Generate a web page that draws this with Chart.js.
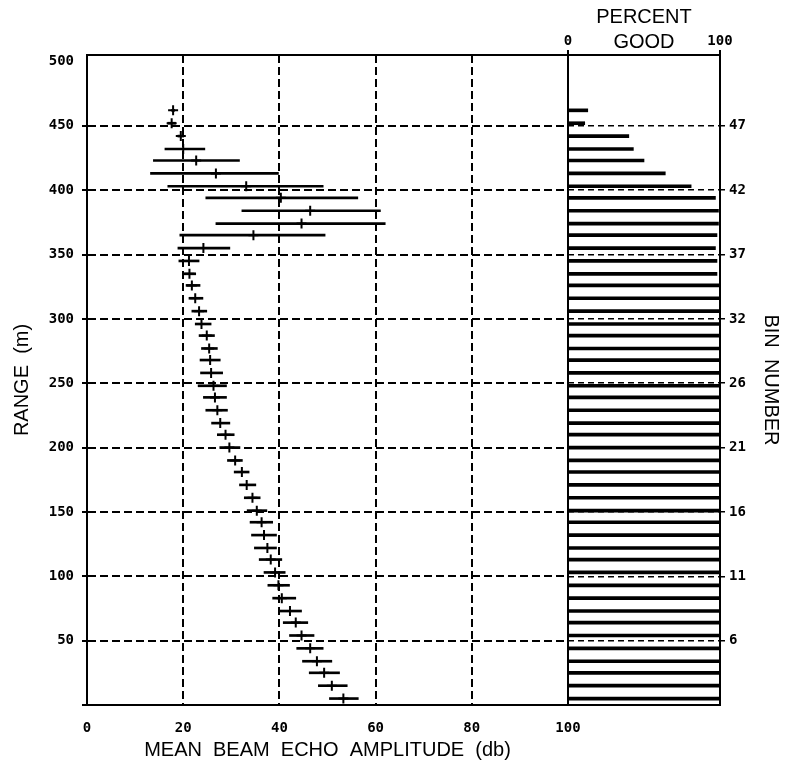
<!DOCTYPE html>
<html>
<head>
<meta charset="utf-8">
<script src="https://cdn.jsdelivr.net/npm/chart.js@4.4.1/dist/chart.umd.min.js"></script>
<style>
  html, body { margin: 0; background: #fff; }
  #wrap { position: relative; width: 785px; height: 767px; }
  #wrap canvas { position: absolute; left: 0; top: 0; }
</style>
</head>
<body>
<div id="wrap">
  <canvas id="echoChart" width="785" height="767"></canvas>
  <canvas id="goodChart" width="785" height="767"></canvas>
</div>
<script>
// one entry per depth bin, top bin first (range in metres)
const rangeM = [462, 452, 442, 432, 423, 413, 403, 394, 384, 374, 365, 355, 345, 335, 326, 316,
                306, 296, 287, 277, 268, 258, 248, 239, 229, 219, 210, 200, 190, 181, 171, 161,
                151, 142, 132, 122, 113, 103, 93, 83, 73, 64, 54, 44, 34, 25, 15, 5];

// mean beam echo amplitude (db) and its spread
const echoMean = [17.9, 17.6, 19.5, 20.0, 22.7, 26.8, 33.1, 40.3, 46.4, 44.6, 34.6, 24.2, 21.2, 21.3, 21.8, 22.5,
                  23.3, 23.8, 24.9, 25.4, 25.6, 25.8, 26.3, 26.6, 27.1, 27.7, 28.8, 29.6, 30.8, 32.2, 33.2, 34.4,
                  35.3, 36.3, 36.8, 37.5, 38.2, 39.1, 39.8, 40.5, 42.2, 43.4, 44.6, 46.4, 47.8, 49.3, 50.9, 53.3];
const echoLow = [17.6, 16.8, 18.9, 16.2, 13.8, 13.2, 16.8, 24.7, 32.2, 26.8, 19.3, 18.9, 19.1, 20.0, 20.6, 21.2,
                 21.8, 22.5, 23.3, 23.8, 23.5, 23.6, 23.1, 24.2, 24.7, 25.9, 27.1, 27.6, 29.2, 30.6, 31.7, 32.7,
                 33.3, 33.9, 34.2, 34.8, 35.8, 36.8, 37.6, 38.6, 39.8, 40.8, 42.1, 43.6, 44.8, 46.2, 48.1, 50.4];
const echoHigh = [18.2, 18.4, 20.1, 24.5, 31.7, 39.8, 49.1, 56.3, 61.0, 62.0, 49.5, 29.7, 23.3, 22.6, 23.5, 24.1,
                  24.9, 25.8, 26.5, 27.1, 27.7, 28.2, 29.0, 29.0, 29.2, 29.7, 30.6, 31.8, 32.3, 33.7, 35.1, 36.0,
                  37.4, 38.6, 39.4, 39.4, 40.5, 41.2, 42.1, 43.4, 44.6, 45.9, 47.2, 49.1, 50.9, 52.5, 54.1, 56.4];

// percent good per bin
const percentGood = [13, 11, 40, 43, 50, 64, 81, 97, 99, 99, 98, 97, 98, 98, 100, 100,
                     100, 100, 100, 100, 100, 100, 100, 100, 100, 100, 100, 100, 100, 100, 100, 100,
                     100, 100, 100, 100, 100, 100, 100, 100, 100, 100, 100, 100, 100, 100, 100, 100];

// bin number labels shown on the right axis at these ranges
const rangeTicks = [50, 100, 150, 200, 250, 300, 350, 400, 450];
const binTicks = ['6', '11', '16', '21', '26', '32', '37', '42', '47'];

const tickFont = { family: "'DejaVu Sans Mono', monospace", size: 14, weight: 'bold' };
const titleFont = { family: "'Liberation Sans', Arial, sans-serif", size: 20 };

// solid box round the plot area
const frame = {
    id: 'frame',
    afterDatasetsDraw(chart) {
        const a = chart.chartArea;
        const c = chart.ctx;
        c.save();
        c.strokeStyle = '#000';
        c.lineWidth = 2;
        c.setLineDash([]);
        c.strokeRect(a.left, a.top, a.right - a.left, a.bottom - a.top);
        c.restore();
    }
};

new Chart(document.getElementById('echoChart'), {
    type: 'scatter',
    data: {
        datasets: [{
            type: 'bar',
            indexAxis: 'y',
            label: 'spread',
            data: rangeM.map((r, i) => ({ y: r, x: [echoLow[i], echoHigh[i]] })),
            backgroundColor: '#000',
            borderWidth: 0,
            barThickness: 2
        }, {
            type: 'scatter',
            label: 'mean',
            data: rangeM.map((r, i) => ({ x: echoMean[i], y: r })),
            pointStyle: 'cross',
            pointRadius: 5,
            pointBorderWidth: 2,
            borderColor: '#000',
            backgroundColor: '#000'
        }]
    },
    options: {
        responsive: false,
        animation: false,
        devicePixelRatio: 1,
        layout: { padding: { top: 55, right: 217, bottom: 0, left: 0 } },
        plugins: { legend: { display: false }, tooltip: { enabled: false } },
        scales: {
            x: {
                type: 'linear',
                position: 'bottom',
                min: 0,
                max: 100,
                offset: false,
                ticks: { stepSize: 20, padding: 15, color: '#000', font: tickFont, maxRotation: 0 },
                grid: { color: '#000', lineWidth: 2, drawTicks: false, offset: false },
                border: { display: true, color: '#000', width: 2, dash: [8, 4] },
                title: {
                    display: true,
                    text: 'MEAN  BEAM  ECHO  AMPLITUDE  (db)',
                    color: '#000',
                    font: titleFont,
                    padding: { top: 0, bottom: 5 }
                },
                afterFit: s => { s.height = 62; }
            },
            y: {
                type: 'linear',
                min: 0,
                max: 505,
                offset: false,
                ticks: {
                    stepSize: 50,
                    includeBounds: false,
                    padding: 8,
                    color: '#000',
                    font: tickFont,
                    callback: v => (v === 0 ? '' : v)
                },
                grid: {
                    color: c => (c.tick && c.tick.value === 500 ? 'rgba(0,0,0,0)' : '#000'),
                    lineWidth: 2,
                    tickLength: 5,
                    offset: false
                },
                border: { display: true, color: '#000', width: 2, dash: [8, 4] },
                title: {
                    display: true,
                    text: 'RANGE  (m)',
                    color: '#000',
                    font: titleFont,
                    padding: { top: 10, bottom: 0 }
                },
                afterFit: s => { s.width = 87; }
            }
        }
    },
    plugins: [frame]
});

new Chart(document.getElementById('goodChart'), {
    type: 'bar',
    data: {
        datasets: [{
            label: 'percent good',
            data: rangeM.map((r, i) => ({ y: r, x: percentGood[i] })),
            backgroundColor: '#000',
            borderWidth: 0,
            barThickness: 3
        }]
    },
    options: {
        indexAxis: 'y',
        responsive: false,
        animation: false,
        devicePixelRatio: 1,
        layout: { padding: { top: 0, right: 0, bottom: 62, left: 568 } },
        plugins: { legend: { display: false }, tooltip: { enabled: false } },
        scales: {
            x: {
                type: 'linear',
                position: 'top',
                min: 0,
                max: 100,
                offset: false,
                ticks: { stepSize: 100, padding: 0, color: '#000', font: tickFont, maxRotation: 0 },
                grid: { color: '#000', lineWidth: 2, tickLength: 5, offset: false },
                border: { display: true, color: '#000', width: 2 },
                title: {
                    display: true,
                    text: ['PERCENT', 'GOOD'],
                    color: '#000',
                    font: { family: titleFont.family, size: 20, lineHeight: 1.25 },
                    padding: { top: 5, bottom: 0 }
                },
                afterFit: s => { s.height = 55; }
            },
            y: {
                type: 'linear',
                position: 'right',
                min: 0,
                max: 505,
                offset: false,
                ticks: {
                    stepSize: 50,
                    includeBounds: false,
                    padding: 4,
                    color: '#000',
                    font: tickFont,
                    callback: v => {
                        const i = rangeTicks.indexOf(v);
                        return i < 0 ? '' : binTicks[i];
                    }
                },
                grid: {
                    color: c => (c.tick && rangeTicks.indexOf(c.tick.value) >= 0 ? '#000' : 'rgba(0,0,0,0)'),
                    lineWidth: 1.5,
                    tickLength: 5,
                    offset: false
                },
                border: { display: true, color: '#000', width: 2, dash: [6, 4] },
                title: {
                    display: true,
                    text: 'BIN  NUMBER',
                    color: '#000',
                    font: titleFont,
                    padding: { top: 2, bottom: 0 }
                },
                afterFit: s => { s.width = 65; }
            }
        }
    },
    plugins: [frame]
});
</script>
</body>
</html>
